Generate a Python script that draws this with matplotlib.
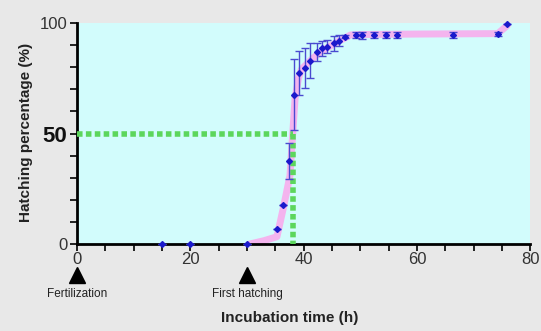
import numpy as np
import matplotlib.pyplot as plt
from matplotlib.ticker import MultipleLocator

plt.rcParams['font.family'] = ['Liberation Sans', 'DejaVu Sans']

# observed hatching (mean +/- error)
hours = [15, 20, 30, 35.3, 36.3, 37.4, 38.3, 39.2, 40.3, 41.2, 42.3, 43.3, 44.2,
         45.3, 46.3, 47.3, 49.2, 50.3, 52.4, 54.6, 56.5, 66.3, 74.4, 75.9]
hatched = [0, 0, 0, 7, 17.5, 37.5, 67.5, 77.5, 79.5, 83, 87, 88.5, 89.3,
           90.8, 92, 93.8, 94.6, 94.4, 94.6, 94.6, 94.6, 94.6, 95, 99.5]
err = [0, 0, 0, 0, 0, 8, 16, 10, 9, 8, 4, 3.5, 3,
       3.5, 2.5, 0.8, 1.5, 1.5, 1.5, 1.5, 1.5, 1.5, 1, 0]

# fitted curve (pink)
fit_x = [30.5, 33, 35.3, 36.4, 37.6, 38.1, 38.5, 39.1, 39.6, 41.2, 43, 46, 48.3,
         50.7, 60, 74.3, 76]
fit_y = [0, 1.5, 3.3, 16, 31, 50.7, 66, 75, 79, 83, 87, 91.5, 94.6,
         94.8, 95, 95.2, 99]

t50 = 38.2

fig = plt.figure(figsize=(5.41, 3.31), dpi=100, facecolor='#e8e8e8')
ax = fig.add_axes([0.1423, 0.2628, 0.8377, 0.6677])
ax.set_facecolor('#d2fcfc')

ax.plot(fit_x, fit_y, color='#f4b4ee', lw=5, solid_capstyle='round', zorder=2)
ax.plot([0, t50], [50, 50], color='#5cd65c', lw=4, dashes=(1.0, 0.6), zorder=3)
ax.plot([t50, t50], [50, 0], color='#5cd65c', lw=4, dashes=(1.0, 0.6), zorder=3)
ax.errorbar(hours, hatched, yerr=err, fmt='D', ms=3, color='#1a1acc',
            ecolor='#4a4ad0', elinewidth=1, capsize=3, capthick=1, zorder=4,
            clip_on=False)

ax.set_xlim(0, 80)
ax.set_ylim(0, 100)
ax.xaxis.set_major_locator(MultipleLocator(20))
ax.xaxis.set_minor_locator(MultipleLocator(5))
ax.yaxis.set_major_locator(MultipleLocator(50))
ax.yaxis.set_minor_locator(MultipleLocator(10))
for s in ['top', 'right']:
    ax.spines[s].set_visible(False)
for s in ['left', 'bottom']:
    ax.spines[s].set_linewidth(2)
ax.tick_params(which='both', direction='out', length=5, width=1.2,
               labelsize=12, labelcolor='#333333')
ax.tick_params(axis='y', which='major', pad=2)
ax.tick_params(axis='x', which='major', pad=1)
for lbl in ax.get_yticklabels():
    if lbl.get_text() == '50':
        lbl.set_fontsize(16)
        lbl.set_fontweight('bold')
        lbl.set_color('#111111')

# event markers under the time axis
ax.plot([0, 30], [-14, -14], '^', color='black', ms=11, clip_on=False)
ax.text(0, -20, 'Fertilization', ha='center', va='top', fontsize=8.5, color='#222222')
ax.text(30, -20, 'First hatching', ha='center', va='top', fontsize=8.5, color='#222222')

fig.text(0.535, 0.04, 'Incubation time (h)', ha='center', va='center',
         fontsize=11, fontweight='bold', color='#222222')
fig.text(0.048, 0.6, 'Hatching percentage (%)', ha='center', va='center',
         rotation=90, fontsize=11, fontweight='bold', color='#222222')

fig.savefig('out.png', dpi=100, facecolor=fig.get_facecolor())
